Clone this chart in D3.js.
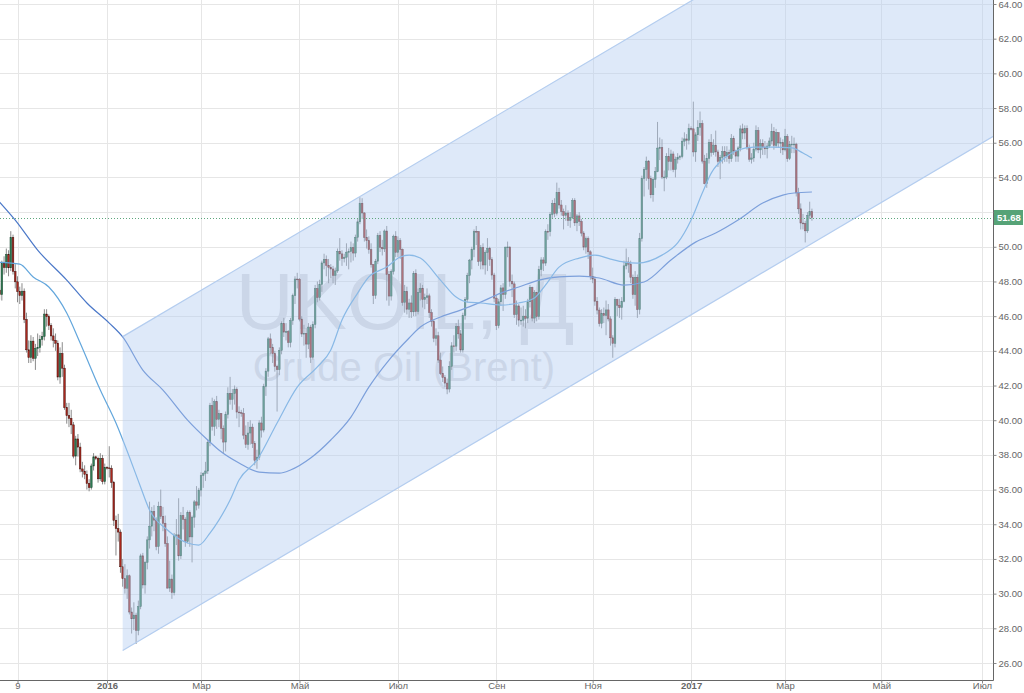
<!DOCTYPE html>
<html>
<head>
<meta charset="utf-8">
<script src="https://cdn.jsdelivr.net/npm/d3@7"></script>
<style>
    html, body { margin: 0; padding: 0; background: #fff; overflow: hidden; }
    svg { display: block; font-family: "Liberation Sans", Arial, sans-serif; }
</style>
</head>
<body>
<svg id="chart" width="1024" height="693"></svg>
<script>
// daily bars, UKOIL, 27 Oct 2015 .. 17 Mar 2017 (one row per week)
const opens = [
    47.50, 47.24, 49.05, 48.80,
    49.56, 48.79, 50.54, 48.58, 47.98,
    47.42, 47.19, 47.44, 45.81, 44.06,
    43.61, 44.56, 43.57, 44.14, 44.18,
    44.66, 44.83, 46.12, 45.97, 45.46,
    44.86, 44.61, 44.44, 42.49, 43.84,
    43.00, 40.73, 40.26, 40.11, 39.73,
    37.93, 38.92, 38.45, 37.19, 37.06,
    36.88, 36.35, 36.11, 37.36, 37.89,
    37.80, 36.62, 37.79, 36.46, 37.28,
    37.25, 37.22, 36.42, 34.23, 33.75,
    33.55, 31.55, 30.86, 30.31, 31.03,
    28.94, 28.55, 28.76, 27.88, 29.25,
    32.18, 30.50, 31.80, 33.10, 33.89,
    34.74, 34.24, 32.72, 35.04, 34.46,
    34.06, 32.88, 30.32, 30.84, 30.06,
    33.36, 33.39, 32.18, 34.50, 34.28,
    33.01, 34.69, 33.27, 34.41, 35.29,
    35.10, 35.97, 36.81, 36.93, 37.07,
    38.72, 40.84, 39.65, 41.07, 40.05,
    40.39, 39.53, 38.74, 40.33, 41.54,
    41.20, 41.54, 41.79, 40.47, 40.44,
    40.40, 39.14, 38.60, 39.26, 39.60,
    38.67, 37.69, 37.87, 39.84, 39.43,
    41.94, 42.83, 44.69, 44.18, 43.84,
    43.10, 42.91, 44.03, 45.58, 45.08,
    45.11, 44.48, 45.74, 47.18, 48.14,
    48.13, 45.83, 44.97, 45.01, 44.39,
    45.37, 43.63, 45.52, 47.59, 47.08,
    47.83, 49.07, 49.28, 48.93, 48.81,
    48.72, 48.35, 48.61, 49.74, 49.59,
    49.32, 49.40, 49.69, 49.72, 49.95,
    49.64, 50.55, 51.44, 52.51, 51.95,
    50.54, 50.35, 49.83, 48.97, 47.19,
    49.17, 50.65, 49.96, 49.88, 50.91,
    48.41, 47.16, 48.58, 50.61, 49.68,
    50.35, 49.85, 46.80, 47.43, 46.40,
    46.76, 46.25, 48.47, 46.26, 47.37,
    47.61, 46.96, 47.08, 47.17, 46.20,
    45.69, 44.72, 44.87, 43.47, 42.70,
    42.46, 42.14, 41.80, 43.10, 44.29,
    44.27, 45.39, 44.98, 44.05, 46.04,
    46.97, 48.35, 49.23, 49.85, 50.89,
    50.88, 49.16, 49.96, 48.95, 49.67,
    49.92, 49.26, 48.37, 47.04, 45.45,
    46.83, 47.63, 47.26, 49.98, 49.99,
    48.01, 47.86, 46.10, 46.59, 45.77,
    45.77, 46.00, 45.88, 46.83, 47.65,
    45.89, 47.35, 45.97, 48.69, 49.24,
    49.06, 50.89, 50.87, 51.86, 52.51,
    51.93, 53.14, 52.41, 52.03, 51.81,
    51.95, 51.52, 51.68, 52.67, 51.38,
    51.78, 51.46, 50.79, 49.98, 50.47,
    49.71, 48.30, 48.14, 46.86, 46.35,
    45.58, 46.15, 46.04, 46.36, 45.84,
    44.75, 44.43, 46.95, 46.63, 46.49,
    46.86, 48.90, 49.12, 49.00, 48.24,
    47.24, 48.24, 46.38, 50.47, 53.94,
    54.46, 54.94, 53.93, 53.00, 53.89,
    54.33, 55.69, 55.72, 54.02, 54.02,
    55.21, 54.92, 55.35, 54.46, 55.05,
    55.16, 55.20, 56.09, 56.22, 56.14,
    56.82, 56.80, 55.47, 56.46, 56.89,
    57.10, 54.94, 53.64, 55.10, 56.01,
    55.45, 55.86, 55.47, 54.92, 55.16,
    55.49, 55.23, 55.44, 55.08, 56.24,
    55.52, 55.23, 55.70, 56.80, 56.56,
    56.81, 55.72, 55.05, 55.12, 55.63,
    56.70, 55.59, 55.97, 55.75, 55.65,
    55.81, 56.10, 56.66, 55.84, 56.58,
    55.99, 56.01, 55.59, 56.36, 55.08,
    55.90, 55.92, 55.92, 53.11, 52.19,
    51.37, 51.35, 50.92, 51.81, 52.03
];
const highs = [
    47.90, 49.20, 49.45, 49.90,
    49.80, 50.90, 50.70, 49.00, 48.30,
    47.70, 47.90, 47.60, 46.20, 44.60,
    44.90, 44.80, 44.40, 45.00, 44.90,
    45.10, 46.40, 46.40, 46.10, 45.60,
    45.30, 45.00, 44.60, 44.20, 44.50,
    43.20, 41.00, 41.00, 40.60, 39.90,
    39.10, 39.20, 38.70, 37.60, 37.40,
    37.10, 36.60, 37.50, 38.10, 37.95,
    37.90, 38.10, 38.00, 37.50, 37.35,
    38.50, 37.40, 36.50, 34.50, 34.60,
    33.70, 32.00, 31.70, 31.40, 31.10,
    29.20, 29.50, 28.90, 29.60, 32.30,
    32.35, 31.90, 33.30, 35.30, 35.00,
    35.10, 34.40, 35.30, 36.00, 35.00,
    34.50, 33.30, 31.90, 31.10, 33.50,
    34.30, 35.50, 34.70, 35.00, 34.40,
    34.80, 34.80, 34.50, 35.40, 36.20,
    36.10, 37.00, 37.00, 37.60, 38.90,
    41.00, 41.30, 41.20, 41.40, 40.60,
    40.40, 39.70, 40.50, 41.90, 42.50,
    41.80, 42.00, 41.90, 40.80, 40.60,
    40.70, 39.70, 39.90, 40.00, 39.80,
    38.80, 38.30, 40.00, 40.20, 42.10,
    43.00, 44.80, 45.00, 44.40, 44.00,
    43.20, 44.20, 45.70, 45.90, 45.60,
    45.20, 45.90, 47.30, 48.30, 48.50,
    48.20, 46.00, 45.50, 45.30, 45.60,
    45.50, 45.70, 47.80, 48.00, 48.10,
    49.20, 49.60, 49.50, 49.30, 49.00,
    48.90, 48.80, 49.90, 50.50, 49.80,
    49.60, 50.20, 49.90, 50.30, 50.20,
    50.70, 51.60, 52.86, 52.80, 52.00,
    51.00, 50.60, 50.20, 49.00, 49.30,
    50.80, 50.90, 50.40, 51.00, 51.20,
    48.60, 48.70, 50.70, 50.90, 50.60,
    50.50, 49.90, 47.80, 47.70, 47.00,
    47.20, 48.60, 48.70, 47.60, 47.90,
    47.80, 47.30, 47.60, 47.30, 46.40,
    45.80, 45.30, 45.10, 43.90, 43.10,
    42.60, 42.40, 43.40, 44.50, 44.90,
    45.60, 45.80, 45.20, 46.20, 47.10,
    48.50, 49.30, 50.00, 51.00, 51.20,
    50.90, 50.10, 50.20, 49.80, 50.50,
    50.00, 49.40, 48.50, 47.20, 47.00,
    47.80, 47.90, 50.00, 50.30, 50.00,
    48.40, 48.00, 46.90, 46.70, 46.50,
    46.60, 46.40, 47.00, 47.80, 47.70,
    47.50, 47.40, 48.90, 49.40, 49.40,
    51.00, 51.30, 52.00, 52.70, 52.80,
    53.70, 53.40, 52.70, 52.20, 52.40,
    52.10, 52.00, 52.80, 52.80, 51.90,
    52.00, 51.60, 50.90, 50.60, 50.60,
    49.80, 48.80, 48.30, 47.10, 46.50,
    46.40, 46.50, 46.90, 46.70, 46.00,
    44.90, 47.10, 47.00, 47.00, 47.10,
    49.20, 49.90, 49.40, 49.20, 48.40,
    48.60, 48.40, 50.80, 54.10, 54.60,
    55.20, 55.00, 54.10, 54.00, 54.60,
    57.20, 56.30, 56.20, 54.40, 55.40,
    55.70, 55.60, 55.50, 55.20, 55.40,
    55.30, 56.30, 56.60, 56.50, 57.10,
    56.95, 58.37, 56.60, 57.30, 57.80,
    57.30, 55.30, 55.40, 56.20, 56.50,
    56.20, 56.70, 55.60, 55.30, 55.80,
    55.80, 55.80, 55.60, 56.50, 56.40,
    55.60, 55.80, 57.00, 57.10, 57.00,
    57.00, 55.90, 55.40, 56.00, 57.00,
    56.90, 56.20, 56.20, 56.10, 56.00,
    56.30, 57.10, 56.90, 56.80, 56.60,
    56.30, 56.20, 56.80, 56.50, 56.10,
    56.40, 56.30, 56.00, 53.40, 52.50,
    51.90, 51.50, 52.00, 52.60, 52.20
];
const lows = [
    46.95, 46.90, 48.40, 48.50,
    48.30, 48.60, 48.40, 47.60, 46.80,
    46.70, 46.90, 45.60, 43.90, 43.30,
    43.30, 43.40, 42.90, 43.70, 43.90,
    44.30, 44.60, 45.40, 45.20, 44.60,
    44.20, 44.00, 42.30, 42.10, 42.50,
    40.60, 39.80, 39.60, 39.20, 37.80,
    37.40, 37.90, 37.00, 36.70, 36.60,
    36.00, 35.90, 36.00, 37.10, 37.70,
    36.40, 36.50, 36.30, 36.30, 37.15,
    36.70, 36.10, 33.90, 32.20, 33.00,
    31.20, 30.40, 30.00, 29.70, 28.80,
    27.70, 27.90, 27.10, 27.60, 29.10,
    30.30, 30.00, 31.40, 32.60, 33.30,
    33.60, 32.50, 32.30, 34.30, 33.60,
    32.70, 30.30, 30.10, 29.70, 29.90,
    32.80, 31.90, 32.00, 33.70, 32.70,
    32.90, 32.70, 31.80, 33.80, 34.80,
    34.90, 35.60, 36.10, 36.50, 36.90,
    38.50, 39.40, 39.10, 39.50, 39.60,
    38.90, 38.10, 38.20, 40.10, 40.90,
    40.60, 40.90, 40.10, 39.60, 40.20,
    38.90, 38.40, 38.30, 38.60, 38.40,
    37.40, 37.20, 37.70, 39.00, 39.30,
    41.40, 42.50, 43.80, 43.30, 42.80,
    40.50, 42.60, 43.80, 44.80, 44.60,
    44.20, 44.20, 45.50, 46.70, 47.60,
    45.70, 44.80, 44.30, 43.60, 44.10,
    43.30, 43.50, 45.30, 46.80, 46.90,
    47.40, 48.70, 48.30, 47.90, 48.20,
    47.90, 47.80, 48.50, 49.20, 48.90,
    49.10, 48.90, 48.70, 49.10, 49.20,
    49.40, 50.30, 51.30, 51.60, 50.30,
    49.90, 49.60, 48.80, 46.70, 47.00,
    49.00, 49.70, 49.50, 49.70, 46.90,
    46.60, 46.90, 48.40, 49.40, 49.40,
    49.30, 46.60, 46.20, 46.10, 45.90,
    45.90, 46.00, 46.00, 46.10, 46.90,
    46.50, 46.40, 46.70, 45.90, 45.40,
    44.50, 44.30, 43.30, 42.60, 42.20,
    41.90, 41.50, 41.60, 42.90, 43.90,
    44.00, 44.70, 43.90, 43.90, 45.80,
    46.80, 47.90, 48.70, 49.40, 50.10,
    48.90, 48.70, 48.70, 48.40, 48.60,
    48.90, 48.10, 46.80, 45.20, 45.30,
    46.60, 46.30, 47.00, 49.40, 47.70,
    47.10, 45.90, 45.50, 45.40, 45.50,
    45.40, 45.30, 45.60, 46.50, 45.70,
    45.60, 45.70, 45.80, 48.30, 48.60,
    48.90, 50.40, 50.60, 51.60, 51.70,
    51.80, 52.20, 51.80, 51.00, 51.50,
    51.20, 51.10, 51.60, 51.20, 50.90,
    51.20, 50.60, 49.80, 49.60, 49.30,
    48.10, 47.90, 46.60, 46.10, 45.40,
    45.30, 45.60, 44.90, 45.70, 44.30,
    43.60, 44.20, 46.00, 45.90, 45.80,
    46.80, 48.70, 48.50, 47.90, 47.00,
    46.60, 45.90, 46.10, 50.30, 52.90,
    53.80, 53.30, 52.80, 52.60, 53.40,
    54.30, 55.00, 53.90, 53.20, 53.90,
    54.40, 54.40, 54.30, 54.00, 54.80,
    55.00, 55.10, 55.80, 55.60, 55.90,
    56.70, 55.20, 54.90, 56.10, 56.40,
    54.80, 53.60, 53.40, 54.80, 55.20,
    55.30, 55.20, 54.60, 53.90, 54.80,
    54.90, 54.90, 54.80, 54.90, 55.30,
    54.90, 54.90, 55.50, 56.20, 56.20,
    55.60, 54.90, 54.80, 54.90, 55.50,
    55.40, 55.10, 55.30, 55.30, 55.10,
    55.70, 55.90, 55.60, 55.70, 55.70,
    55.40, 55.30, 55.50, 54.90, 55.00,
    55.40, 55.40, 52.90, 51.90, 51.00,
    51.00, 50.25, 50.80, 51.60, 51.50
];
const closes = [
    47.24, 49.05, 48.80, 49.56,
    48.79, 50.54, 48.58, 47.98, 47.42,
    47.19, 47.44, 45.81, 44.06, 43.61,
    44.56, 43.57, 44.14, 44.18, 44.66,
    44.83, 46.12, 45.97, 45.46, 44.86,
    44.61, 44.44, 42.49, 43.84, 43.00,
    40.73, 40.26, 40.11, 39.73, 37.93,
    38.92, 38.45, 37.19, 37.06, 36.88,
    36.35, 36.11, 37.36, 37.89, 37.80,
    36.62, 37.79, 36.46, 37.28, 37.25,
    37.22, 36.42, 34.23, 33.75, 33.55,
    31.55, 30.86, 30.31, 31.03, 28.94,
    28.55, 28.76, 27.88, 29.25, 32.18,
    30.50, 31.80, 33.10, 33.89, 34.74,
    34.24, 32.72, 35.04, 34.46, 34.06,
    32.88, 30.32, 30.84, 30.06, 33.36,
    33.39, 32.18, 34.50, 34.28, 33.01,
    34.69, 33.27, 34.41, 35.29, 35.10,
    35.97, 36.81, 36.93, 37.07, 38.72,
    40.84, 39.65, 41.07, 40.05, 40.39,
    39.53, 38.74, 40.33, 41.54, 41.20,
    41.54, 41.79, 40.47, 40.44, 40.40,
    39.14, 38.60, 39.26, 39.60, 38.67,
    37.69, 37.87, 39.84, 39.43, 41.94,
    42.83, 44.69, 44.18, 43.84, 43.10,
    42.91, 44.03, 45.58, 45.08, 45.11,
    44.48, 45.74, 47.18, 48.14, 48.13,
    45.83, 44.97, 45.01, 44.39, 45.37,
    43.63, 45.52, 47.59, 47.08, 47.83,
    49.07, 49.28, 48.93, 48.81, 48.72,
    48.35, 48.61, 49.74, 49.59, 49.32,
    49.40, 49.69, 49.72, 49.95, 49.64,
    50.55, 51.44, 52.51, 51.95, 50.54,
    50.35, 49.83, 48.97, 47.19, 49.17,
    50.65, 49.96, 49.88, 50.91, 48.41,
    47.16, 48.58, 50.61, 49.68, 50.35,
    49.85, 46.80, 47.43, 46.40, 46.76,
    46.25, 48.47, 46.26, 47.37, 47.61,
    46.96, 47.08, 47.17, 46.20, 45.69,
    44.72, 44.87, 43.47, 42.70, 42.46,
    42.14, 41.80, 43.10, 44.29, 44.27,
    45.39, 44.98, 44.05, 46.04, 46.97,
    48.35, 49.23, 49.85, 50.89, 50.88,
    49.16, 49.96, 48.95, 49.67, 49.92,
    49.26, 48.37, 47.04, 45.45, 46.83,
    47.63, 47.26, 49.98, 49.99, 48.01,
    47.86, 46.10, 46.59, 45.77, 45.77,
    46.00, 45.88, 46.83, 47.65, 45.89,
    47.35, 45.97, 48.69, 49.24, 49.06,
    50.89, 50.87, 51.86, 52.51, 51.93,
    53.14, 52.41, 52.03, 51.81, 51.95,
    51.52, 51.68, 52.67, 51.38, 51.78,
    51.46, 50.79, 49.98, 50.47, 49.71,
    48.30, 48.14, 46.86, 46.35, 45.58,
    46.15, 46.04, 46.36, 45.84, 44.75,
    44.43, 46.95, 46.63, 46.49, 46.86,
    48.90, 49.12, 49.00, 48.24, 47.24,
    48.24, 46.38, 50.47, 53.94, 54.46,
    54.94, 53.93, 53.00, 53.89, 54.33,
    55.69, 55.72, 54.02, 54.02, 55.21,
    54.92, 55.35, 54.46, 55.05, 55.16,
    55.20, 56.09, 56.22, 56.14, 56.82,
    56.80, 55.47, 56.46, 56.89, 57.10,
    54.94, 53.64, 55.10, 56.01, 55.45,
    55.86, 55.47, 54.92, 55.16, 55.49,
    55.23, 55.44, 55.08, 56.24, 55.52,
    55.23, 55.70, 56.80, 56.56, 56.81,
    55.72, 55.05, 55.12, 55.63, 56.70,
    55.59, 55.97, 55.75, 55.65, 55.81,
    56.10, 56.66, 55.84, 56.58, 55.99,
    56.01, 55.59, 56.36, 55.08, 55.90,
    55.92, 55.92, 53.11, 52.19, 51.37,
    51.35, 50.92, 51.81, 52.03, 51.68
];

// moving averages (bar index, value)
const slowMaIdx = [0, 7, 17, 30, 39, 49, 55, 64, 73, 84, 93, 98, 107, 116, 125, 130, 139, 148, 157, 165,
    174, 183, 188, 197, 206, 215, 224, 232, 241, 250, 259, 268, 279, 288, 300, 311, 320, 330, 341, 350, 355, 363];
const slowMa = [52.58, 51.54, 49.81, 48.08, 46.76, 45.60, 44.80, 42.89, 41.74, 40.01, 38.86, 38.28, 37.53, 37.01,
    36.95, 37.13, 37.82, 38.86, 40.18, 41.91, 43.47, 44.74, 45.37, 45.95, 46.35, 46.81, 47.33, 47.68, 48.08, 48.26,
    48.31, 48.20, 47.79, 47.97, 49.24, 50.27, 50.79, 51.54, 52.52, 52.98, 53.10, 53.16];
const fastMaIdx = [0, 9, 15, 22, 30, 36, 45, 52, 58, 63, 67, 75, 84, 89, 94, 98, 103, 107, 115, 124,
    133, 142, 148, 153, 160, 165, 173, 179, 183, 188, 197, 204, 209, 215, 224, 232, 239, 244, 250, 259,
    266, 273, 279, 285, 296, 303, 309, 314, 318, 324, 330, 337, 346, 354, 359, 363];
const fastMa = [49.10, 49.00, 48.26, 47.68, 46.18, 44.45, 41.74, 39.84, 37.88, 36.15, 34.82, 33.67, 32.92, 32.80,
    33.49, 34.24, 35.40, 36.55, 37.70, 39.84, 41.91, 43.07, 44.05, 45.78, 47.33, 48.26, 48.83, 49.41, 49.52, 49.35,
    48.08, 47.10, 46.81, 46.76, 46.64, 46.76, 47.05, 47.80, 48.83, 49.35, 49.52, 49.29, 49.12, 49.06, 49.52, 50.22,
    51.54, 53.10, 54.25, 55.12, 55.58, 55.75, 55.75, 55.70, 55.41, 55.12];

// regression channel
const channelIdx = [55, 450];
const channelUpper = [44.82, 74.92];
const channelLower = [26.72, 56.82];

const xTickIdx = [8, 48, 90, 134, 178, 222, 265, 309, 351, 394, 439];
const xTickLabels = ['9', '2016', 'Мар', 'Май', 'Июл', 'Сен', 'Ноя', '2017', 'Мар', 'Май', 'Июл'];
const yTicks = [26, 28, 30, 32, 34, 36, 38, 40, 42, 44, 46, 48, 50, 52, 54, 56, 58, 60, 62, 64];
const lastPrice = 51.68;

// -------------------------
const plotW = 993, plotH = 680;

const x = d3.scaleLinear().domain([0, 444]).range([-0.4, 993.2]);
const y = d3.scaleLinear().domain([26, 64]).range([663, 4]);

const bars = closes.map((c, i) => ({ i: i, o: opens[i], h: highs[i], l: lows[i], c: c }));

const svg = d3.select('#chart');

svg.append('defs').append('clipPath').attr('id', 'plotClip')
    .append('rect').attr('x', 0).attr('y', 0).attr('width', plotW).attr('height', plotH);

const plot = svg.append('g').attr('clip-path', 'url(#plotClip)');

// grid
plot.append('g').selectAll('line').data(yTicks).enter().append('line')
    .attr('x1', 0).attr('x2', plotW)
    .attr('y1', d => Math.round(y(d)) + 0.5).attr('y2', d => Math.round(y(d)) + 0.5)
    .attr('stroke', '#e6e6e6');
plot.append('g').selectAll('line').data(xTickIdx).enter().append('line')
    .attr('y1', 0).attr('y2', plotH)
    .attr('x1', d => Math.round(x(d)) + 0.5).attr('x2', d => Math.round(x(d)) + 0.5)
    .attr('stroke', '#e6e6e6');

// watermark
plot.append('text')
    .attr('x', 405).attr('y', 329)
    .attr('text-anchor', 'middle')
    .style('font-size', '80px')
    .style('fill', '#dcdcdf')
    .text('UKOIL, Д');
plot.append('text')
    .attr('x', 404).attr('y', 381)
    .attr('text-anchor', 'middle')
    .style('font-size', '40px')
    .style('fill', '#dcdcdf')
    .text('Crude Oil (Brent)');

// candles
const bw = 1.6;
const candles = plot.append('g');
candles.selectAll('line.wick').data(bars).enter().append('line')
    .attr('class', 'wick')
    .attr('x1', d => x(d.i)).attr('x2', d => x(d.i))
    .attr('y1', d => y(d.h)).attr('y2', d => y(d.l))
    .attr('stroke', '#8a8a8a').attr('stroke-width', 1);
candles.selectAll('rect.body').data(bars).enter().append('rect')
    .attr('class', 'body')
    .attr('x', d => x(d.i) - bw / 2)
    .attr('width', bw)
    .attr('y', d => y(Math.max(d.o, d.c)))
    .attr('height', d => Math.max(0.8, Math.abs(y(d.o) - y(d.c))))
    .attr('fill', d => d.c >= d.o ? '#2f7d55' : '#a8271d')
    .attr('stroke', d => d.c >= d.o ? '#1d4a33' : '#4a100c')
    .attr('stroke-width', 0.5);

// moving averages
const maLine = d3.line()
    .x(d => x(d[0]))
    .y(d => y(d[1]))
    .curve(d3.curveMonotoneX);

plot.append('path')
    .datum(slowMaIdx.map((d, k) => [d, slowMa[k]]))
    .attr('d', maLine)
    .attr('fill', 'none')
    .attr('stroke', '#4b78c8')
    .attr('stroke-width', 1.2);
plot.append('path')
    .datum(fastMaIdx.map((d, k) => [d, fastMa[k]]))
    .attr('d', maLine)
    .attr('fill', 'none')
    .attr('stroke', '#62a6dc')
    .attr('stroke-width', 1.2);

// channel
const channelPts = [
    [x(channelIdx[0]), y(channelLower[0])],
    [x(channelIdx[1]), y(channelLower[1])],
    [x(channelIdx[1]), y(channelUpper[1])],
    [x(channelIdx[0]), y(channelUpper[0])]
];
plot.append('path')
    .attr('d', 'M' + channelPts.join('L') + 'Z')
    .attr('fill', 'rgba(182,206,242,0.46)')
    .attr('stroke', 'none');
plot.append('line')
    .attr('x1', channelPts[0][0]).attr('y1', channelPts[0][1])
    .attr('x2', channelPts[1][0]).attr('y2', channelPts[1][1])
    .attr('stroke', '#b4cdef').attr('stroke-width', 1.2);
plot.append('line')
    .attr('x1', channelPts[3][0]).attr('y1', channelPts[3][1])
    .attr('x2', channelPts[2][0]).attr('y2', channelPts[2][1])
    .attr('stroke', '#b4cdef').attr('stroke-width', 1.2);

// last price line
plot.append('line')
    .attr('x1', 0).attr('x2', plotW)
    .attr('y1', Math.round(y(lastPrice)) + 0.5).attr('y2', Math.round(y(lastPrice)) + 0.5)
    .attr('stroke', '#5fa77d')
    .attr('stroke-dasharray', '1,2');

// axes
const yAxis = d3.axisRight(y).tickValues(yTicks).tickSize(3).tickPadding(2).tickFormat(d3.format('.2f'));
const gy = svg.append('g')
    .attr('transform', `translate(${plotW + 0.5}, 0)`)
    .call(yAxis);
gy.select('.domain').attr('d', `M0,0V${plotH + 0.5}`).attr('stroke', '#666');
gy.selectAll('.tick line').attr('stroke', '#888');
gy.selectAll('.tick text')
    .style('font-size', '9.5px')
    .style('fill', '#666');

const xAxis = d3.axisBottom(x).tickValues(xTickIdx).tickSize(3).tickPadding(0)
    .tickFormat((d, k) => xTickLabels[k]);
const gx = svg.append('g')
    .attr('transform', `translate(0, ${plotH + 0.5})`)
    .call(xAxis);
gx.select('.domain').attr('d', `M0,0H${plotW + 0.5}`).attr('stroke', '#666');
gx.selectAll('.tick line').attr('stroke', '#888');
gx.selectAll('.tick text')
    .attr('dy', '0.62em')
    .style('font-size', '9.5px')
    .style('fill', '#666')
    .style('font-weight', d => (d === 48 || d === 309) ? 'bold' : 'normal');

// last price label
const ly = Math.round(y(lastPrice));
svg.append('rect')
    .attr('x', plotW + 1).attr('y', ly - 8)
    .attr('width', 29).attr('height', 15)
    .attr('fill', '#56a377');
svg.append('text')
    .attr('x', plotW + 4).attr('y', ly + 3)
    .style('font-size', '9.5px')
    .style('font-weight', 'bold')
    .style('fill', '#fff')
    .text(lastPrice.toFixed(2));
</script>
</body>
</html>
